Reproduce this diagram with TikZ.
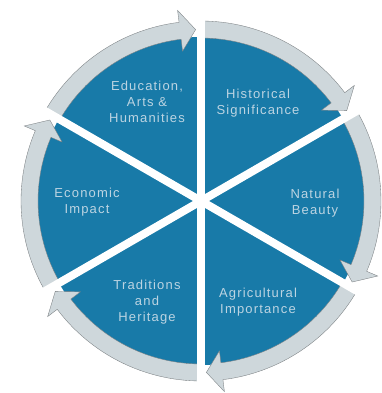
\documentclass[tikz,border=0pt]{standalone}
\usepackage{fontspec}
\newfontfamily\lab{Liberation Sans}[LetterSpace=9]
\definecolor{pieblue}{RGB}{24,122,168}
\definecolor{rimgrey}{RGB}{206,215,219}
\definecolor{rimedge}{RGB}{120,125,128}
\definecolor{labtext}{RGB}{188,212,226}
\tikzset{
  seglabel/.style={text=labtext, align=center, font=\lab\fontsize{13}{15.7}\selectfont, inner sep=0pt},
  rimarrow/.style={fill=rimgrey, draw=rimedge, line width=0.35pt},
  spoke/.style={draw=white, line width=8pt}
}
\begin{document}
\begin{tikzpicture}[x=1pt,y=1pt]
\useasboundingbox (0,0) rectangle (381,393);
\begin{scope}[shift={(201,192)}]
  \fill[pieblue] (0,0) circle[radius=164];
  \foreach \b in {150,90,30,-30,-90,-150}{
    \pgfmathsetmacro{\hb}{\b-60+7}
    \pgfmathsetmacro{\tp}{\b-60+1.8}
    \draw[rimarrow] (\b:180) arc[start angle=\b, end angle=\hb, radius=180]
      -- (\hb:192) -- (\tp:171.5) -- (\hb:151) -- (\hb:163)
      arc[start angle=\hb, end angle=\b, radius=163] -- cycle;
  }
  \foreach \a in {90,30,-30}{
    \draw[spoke] (\a:200) -- (\a+180:200);
  }
\end{scope}
\node[seglabel] (edu) at (147,291) {Education,\\Arts \&\\Humanities};
\node[seglabel] (hist) at (258,290) {Historical\\Significance};
\node[seglabel] (nat) at (315,190) {Natural\\Beauty};
\node[seglabel] (agri) at (258,91) {Agricultural\\Importance};
\node[seglabel] (trad) at (147,91) {Traditions\\and\\Heritage};
\node[seglabel] (econ) at (87,191) {Economic\\Impact};
\end{tikzpicture}
\end{document}
